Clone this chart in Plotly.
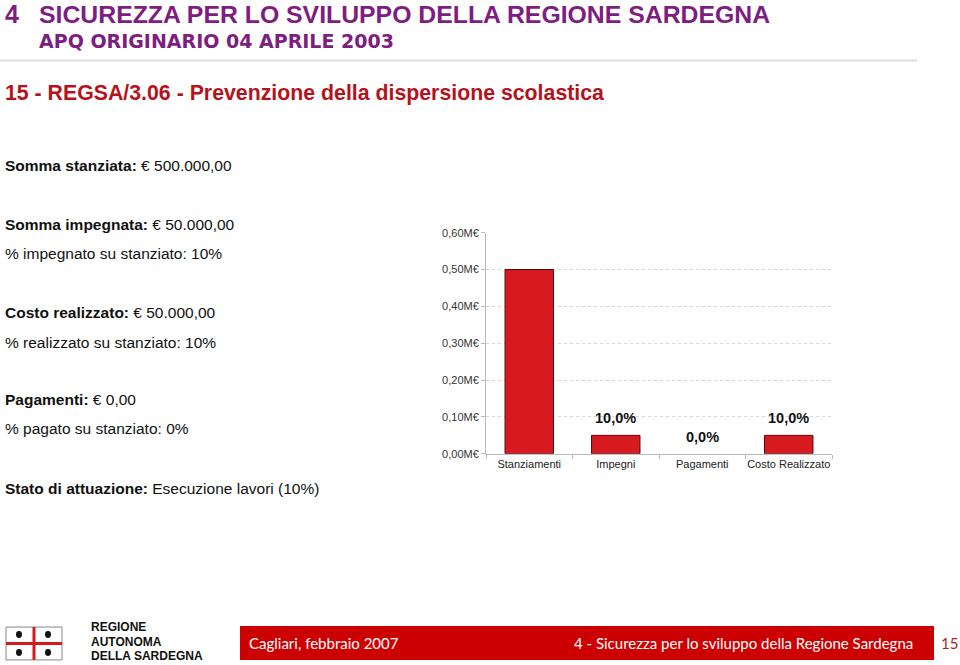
import plotly.graph_objects as go

# ---- data ----
categories = ["Stanziamenti", "Impegni", "Pagamenti", "Costo Realizzato"]
values_eur = [500000.0, 50000.0, 0.0, 50000.0]
show_pct = [False, True, True, True]
ytick_vals = [0.0, 0.1, 0.2, 0.3, 0.4, 0.5, 0.6]
ytick_text = ["0,00M€", "0,10M€", "0,20M€", "0,30M€", "0,40M€", "0,50M€", "0,60M€"]

info_lines = [
    ("Somma stanziata:", "€ 500.000,00", 165),
    ("Somma impegnata:", "€ 50.000,00", 224),
    ("", "% impegnato su stanziato: 10%", 253),
    ("Costo realizzato:", "€ 50.000,00", 312),
    ("", "% realizzato su stanziato: 10%", 342),
    ("Pagamenti:", "€ 0,00", 400),
    ("", "% pagato su stanziato: 0%", 429),
    ("Stato di attuazione:", "Esecuzione lavori (10%)", 489),
]

W, H = 960, 665
def px(x):
    return x / W
def py(y):
    # pixel-from-top -> paper fraction (small correction for the capture's vertical mapping)
    yy = (y - 4.4) / 0.986
    return 1 - yy / H

values_m = [v / 1e6 for v in values_eur]
base = values_eur[0]
pct_text = [("%.1f%%" % (v / base * 100)).replace(".", ",") for v in values_eur]
line_w = [1 if v > 0 else 0 for v in values_eur]

fig = go.Figure()
fig.add_trace(go.Bar(
    x=categories, y=values_m,
    marker=dict(color="#D71920", line=dict(color="#5a0a0a", width=line_w)),
    width=0.56, hoverinfo="skip",
))

FONT = "Liberation Sans, Arial, sans-serif"
annotations = []
for c, v, t, s in zip(categories, values_m, pct_text, show_pct):
    if s:
        annotations.append(dict(
            x=c, y=v, xref="x", yref="y", text="<b>" + t + "</b>", showarrow=False,
            yanchor="bottom", yshift=7,
            font=dict(family=FONT, size=14.5, color="#111"),
        ))

for b, r, y in info_lines:
    txt = (("<b>" + b + "</b> ") if b else "") + r
    annotations.append(dict(
        x=px(3), y=py(y), xref="paper", yref="paper", text=txt, showarrow=False,
        xanchor="left", yanchor="middle", font=dict(family=FONT, size=15.5, color="#111"),
    ))

PURPLE = "#7D1E80"
annotations += [
    dict(x=px(3), y=py(12), xref="paper", yref="paper", text="<b>4</b>", showarrow=False,
         xanchor="left", yanchor="middle", font=dict(family=FONT, size=25, color=PURPLE)),
    dict(x=px(37), y=py(13), xref="paper", yref="paper",
         text="<b>SICUREZZA PER LO SVILUPPO DELLA REGIONE SARDEGNA</b>", showarrow=False,
         xanchor="left", yanchor="middle", font=dict(family=FONT, size=24.8, color=PURPLE)),
    dict(x=px(37), y=py(40), xref="paper", yref="paper",
         text="<b>APQ ORIGINARIO 04 APRILE 2003</b>", showarrow=False,
         xanchor="left", yanchor="middle", font=dict(family="DejaVu Sans, sans-serif", size=19, color=PURPLE)),
    dict(x=px(3), y=py(92), xref="paper", yref="paper",
         text="<b>15 - REGSA/3.06 - Prevenzione della dispersione scolastica</b>", showarrow=False,
         xanchor="left", yanchor="middle", font=dict(family=FONT, size=21.3, color="#B5121B")),
    # footer
    dict(x=px(89), y=py(628), xref="paper", yref="paper", text="<b>REGIONE</b>", showarrow=False,
         xanchor="left", yanchor="middle", font=dict(family=FONT, size=12, color="#111")),
    dict(x=px(89), y=py(643), xref="paper", yref="paper", text="<b>AUTONOMA</b>", showarrow=False,
         xanchor="left", yanchor="middle", font=dict(family=FONT, size=12, color="#111")),
    dict(x=px(89), y=py(657), xref="paper", yref="paper", text="<b>DELLA SARDEGNA</b>", showarrow=False,
         xanchor="left", yanchor="middle", font=dict(family=FONT, size=12, color="#111")),
    dict(x=px(247), y=py(644), xref="paper", yref="paper", text="Cagliari, febbraio 2007", showarrow=False,
         xanchor="left", yanchor="middle", font=dict(family="Lato, sans-serif", size=15, color="white")),
    dict(x=px(915), y=py(644), xref="paper", yref="paper",
         text="4 - Sicurezza per lo sviluppo della Regione Sardegna", showarrow=False,
         xanchor="right", yanchor="middle", font=dict(family="Lato, sans-serif", size=15, color="white")),
    dict(x=px(949), y=py(644), xref="paper", yref="paper", text="15", showarrow=False,
         xanchor="center", yanchor="middle", font=dict(family="Lato, sans-serif", size=15, color="#A8232A")),
]

shapes = [
    dict(type="line", xref="paper", yref="paper", x0=0, x1=px(917), y0=py(59), y1=py(59),
         line=dict(color="#DDDDDD", width=2)),
    dict(type="rect", xref="paper", yref="paper", x0=px(240), x1=px(934), y0=py(661), y1=py(627),
         fillcolor="#CC0000", line=dict(width=0)),
    # flag
    dict(type="rect", xref="paper", yref="paper", x0=px(6), x1=px(62), y0=py(661), y1=py(628),
         fillcolor="white", line=dict(color="#888", width=1)),
    dict(type="rect", xref="paper", yref="paper", x0=px(32.5), x1=px(35.5), y0=py(661), y1=py(628),
         fillcolor="#D7191F", line=dict(width=0)),
    dict(type="rect", xref="paper", yref="paper", x0=px(6), x1=px(62), y0=py(646), y1=py(643),
         fillcolor="#D7191F", line=dict(width=0)),
]
for cx, cy in [(19, 635.5), (48, 635.5), (19, 653.5), (48, 653.5)]:
    shapes.append(dict(type="circle", xref="paper", yref="paper",
                       x0=px(cx - 3), x1=px(cx + 3), y0=py(cy + 3.5), y1=py(cy - 3.5),
                       fillcolor="#111", line=dict(width=0)))

fig.update_layout(
    width=W, height=H, margin=dict(l=0, r=0, t=0, b=0),
    paper_bgcolor="white", plot_bgcolor="white", showlegend=False,
    annotations=annotations, shapes=shapes,
    xaxis=dict(domain=[px(486), px(832)], showgrid=False, showline=True, linecolor="#BBBBBB",
               linewidth=1, ticks="outside", tickson="boundaries", ticklen=4, tickcolor="#BBBBBB",
               tickangle=0,
               tickfont=dict(family=FONT, size=11, color="#222"), fixedrange=True),
    yaxis=dict(domain=[py(454), py(232)], range=[0, 0.6], tickvals=ytick_vals, ticktext=ytick_text,
               showgrid=True, gridcolor="#D8D8D8", griddash="dot", gridwidth=1,
               showline=True, linecolor="#BBBBBB", linewidth=1, ticks="outside", ticklen=4,
               tickcolor="#BBBBBB", zeroline=False,
               tickfont=dict(family=FONT, size=11, color="#333"), fixedrange=True),
)

fig.write_html("out.html", config={"displayModeBar": False},
               post_script="document.body.style.margin='0';document.body.style.overflow='hidden';")
